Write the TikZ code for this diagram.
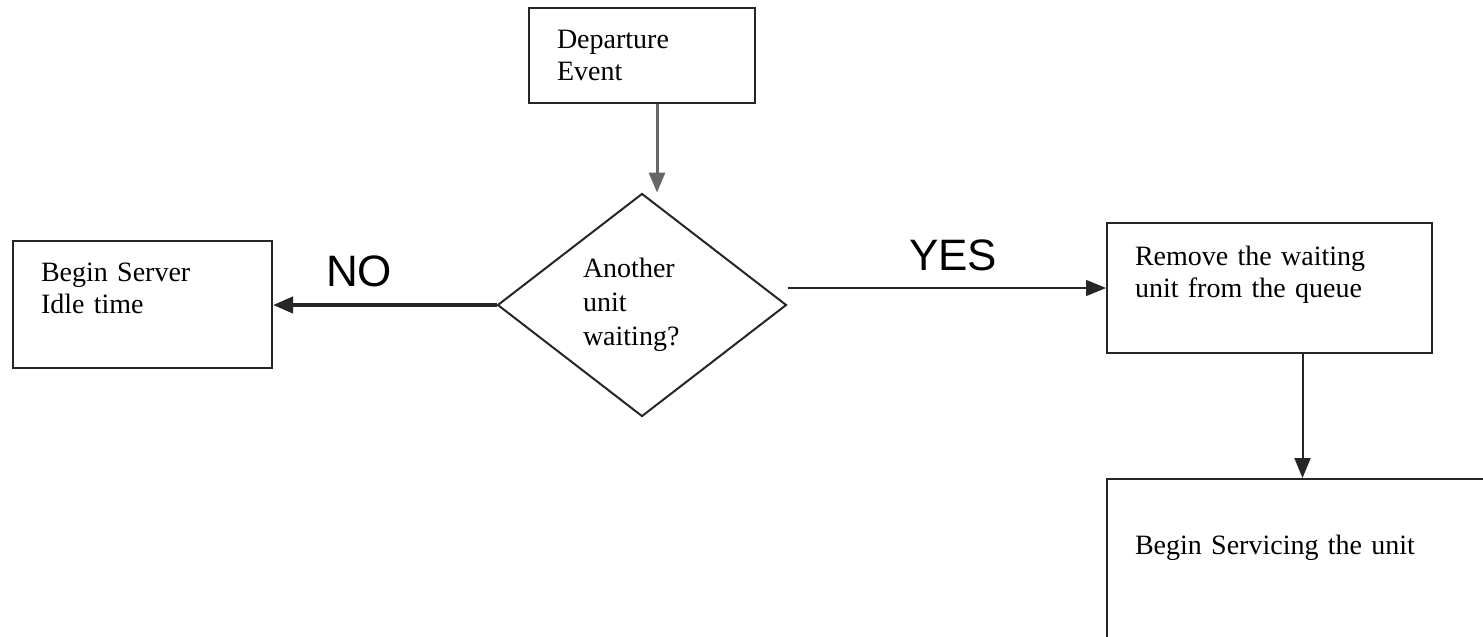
\documentclass[tikz,border=0pt]{standalone}
\usepackage{fontspec}
\setmainfont{Liberation Serif}
\newfontfamily\yesno{Liberation Sans}
\usetikzlibrary{shapes.geometric}
\usetikzlibrary{arrows.meta}

\begin{document}
\begin{tikzpicture}[x=0.5pt,y=-0.5pt,
    box/.style={draw=black!85, line width=1pt, align=left, inner xsep=14pt, inner ysep=0pt, font=\fontsize{14}{16}\selectfont},
    decision/.style={diamond, draw=black!85, line width=1pt, align=left, text width=59pt, inner sep=0pt, minimum width=144.5pt, minimum height=111.5pt, font=\fontsize{14}{17}\selectfont},
    flow/.style={draw=black!85, -{Triangle[length=10pt,width=8pt]}},
    answer/.style={font=\yesno\fontsize{22}{24}\selectfont, inner sep=3pt}]
    \clip (0,0) rectangle (1483,637);
    \fill[white] (0,0) rectangle (1483,637);
    % Event and decision
    \node[box, text width=85pt, minimum height=47.5pt] (dep) at (642,55.5) {Departure\\Event};
    \node[decision] (dia) at (642,305) {Another\\unit\\waiting?};
    % Outcomes
    \node[box, text width=101.5pt, minimum height=63.5pt] (idle) at (142.5,304.5) {Begin Server\\Idle time\\~};
    \node[box, text width=134.5pt, minimum height=65pt] (rem) at (1269.5,288) {Remove the waiting\\unit from the queue\\~};
    \node[box, text width=182pt, minimum height=82pt] (svc) at (1317,561) {Begin Servicing the unit\\~};
    %
    % Flow edges:
  \draw[flow, line width=1.5pt, draw=black!60] ([xshift=7.5pt]dep.south) -- ([xshift=7.5pt]dep.south |- dia.north);
  \draw[flow, line width=2pt] (dia.west) -- node[answer, above=5pt, pos=0.615] {NO} (dia.west -| idle.east);
  \draw[flow, line width=0.75pt] (dia.east |- rem.west) -- node[answer, above=5pt, pos=0.52] {YES} (rem.west);
  \draw[flow, line width=1pt] ([xshift=16.5pt]rem.south) -- ([xshift=16.5pt]rem.south |- svc.north);
\end{tikzpicture}
\end{document}
